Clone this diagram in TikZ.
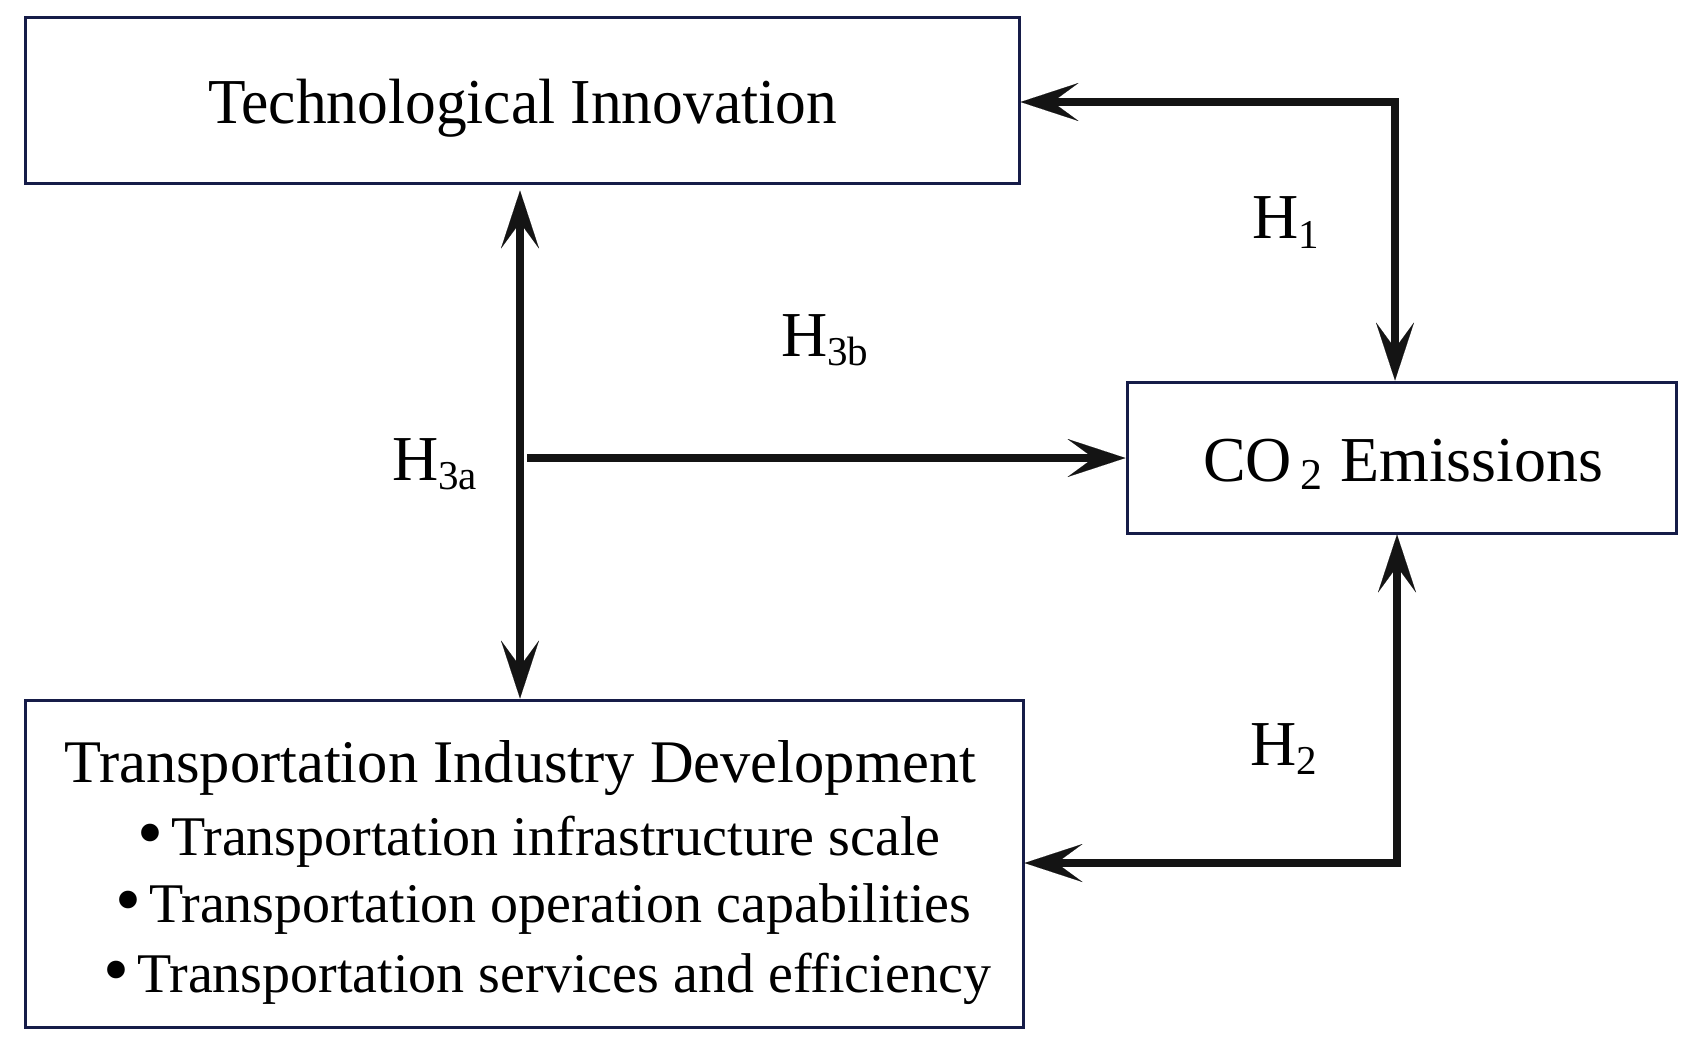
\documentclass[tikz,border=0pt]{standalone}
\usepackage{fontspec}
\setmainfont{Liberation Serif}
\usetikzlibrary{arrows.meta}
\definecolor{boxc}{RGB}{22,28,72}
\definecolor{arrc}{RGB}{20,20,20}
\tikzset{
  tipx/.tip={Stealth[length=58pt,width=38pt,inset=26pt,line width=0.1pt]},
}
\begin{document}
\begin{tikzpicture}[x=1pt,y=-1pt,
  box/.style={draw=boxc, line width=3pt, inner sep=0pt, rectangle},
  lbl/.style={anchor=base west, inner sep=0pt, font=\fontsize{64}{70}\selectfont},
  txt/.style={anchor=base west, inner sep=0pt},
  conn/.style={line width=7.5pt, draw=arrc},
]
\useasboundingbox (0,0) rectangle (1699,1041);
% boxes
\node[box, minimum width=994pt, minimum height=165pt] (ti) at (522,100.5) {};
\node[box, minimum width=549pt, minimum height=151pt] (co) at (1401.5,457.5) {};
\node[box, minimum width=998pt, minimum height=327pt] (td) at (524,863.5) {};
% box texts
\node[lbl] (tit) at (208,123) {\scalebox{0.96}[1]{Technological Innovation}};
\node[lbl] (cot) at (1203,481) {CO\hspace{8pt}\raisebox{-8pt}{\fontsize{44}{48}\selectfont 2}\hspace{18pt}Emissions};
\node[txt, font=\fontsize{60.5}{66}\selectfont] (tdt) at (64,782) {Transportation Industry Development};
\node[txt, font=\fontsize{56}{62}\selectfont] (b1) at (171,855) {\llap{\raisebox{-2pt}{\fontsize{74}{74}\selectfont •}\hspace{8pt}}Transportation infrastructure scale};
\node[txt, font=\fontsize{56}{62}\selectfont] (b2) at (149,922) {\llap{\raisebox{-2pt}{\fontsize{74}{74}\selectfont •}\hspace{8pt}}Transportation operation capabilities};
\node[txt, font=\fontsize{56}{62}\selectfont] (b3) at (137,992) {\llap{\raisebox{-2pt}{\fontsize{74}{74}\selectfont •}\hspace{8pt}}Transportation services and efficiency};
% hypothesis labels
\node[lbl] (h1) at (1252,238) {H\raisebox{-10pt}{\fontsize{41}{45}\selectfont 1}};
\node[lbl] (h3b) at (781,356) {H\raisebox{-9pt}{\fontsize{41}{45}\selectfont 3b}};
\node[lbl] (h3a) at (392,480) {H\raisebox{-9pt}{\fontsize{41}{45}\selectfont 3a}};
\node[lbl] (h2) at (1250,765) {H\raisebox{-9pt}{\fontsize{41}{45}\selectfont 2}};
% connectors
\coordinate (c1) at (1395,102);
\coordinate (c2) at (1397,863);
\coordinate (v) at (520,458);
\coordinate (hs) at (527,458);
\draw[conn, tipx-tipx] (ti.east |- c1) -- (c1) -- (c1 |- co.north);
\draw[conn, tipx-tipx] (c2 |- co.south) -- (c2) -- (td.east |- c2);
\draw[conn, tipx-tipx, shorten <=6pt] (v |- ti.south) -- (v |- td.north);
\draw[conn, -tipx] (hs) -- (co.west |- hs);
\end{tikzpicture}
\end{document}
